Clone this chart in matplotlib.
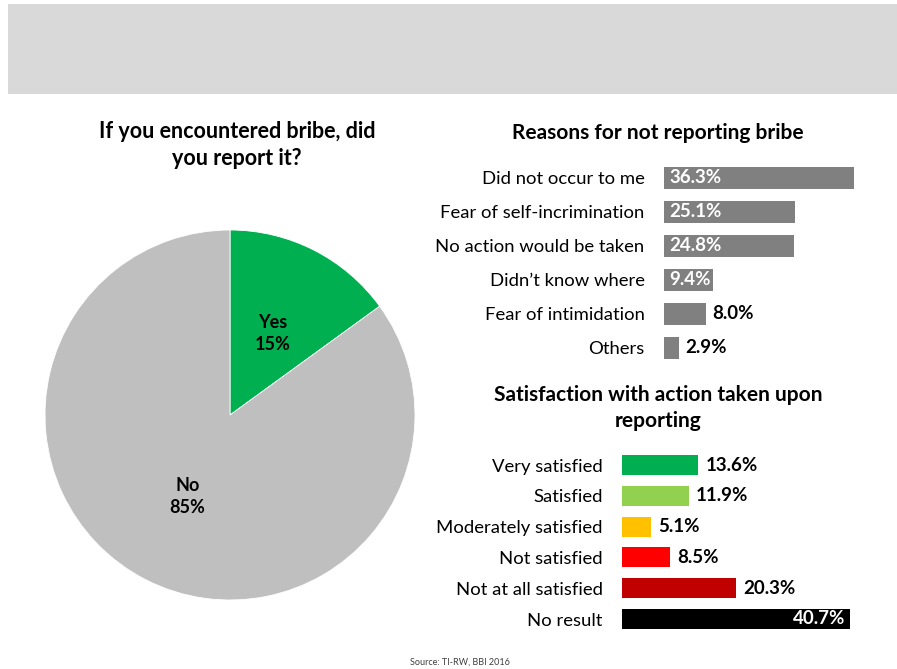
import matplotlib.pyplot as plt
from matplotlib.patches import Rectangle

plt.rcParams['font.family'] = ['Lato', 'DejaVu Sans']

# Reported bribe or not
pie_labels = ['Yes', 'No']
pie_values = [15, 85]
pie_colors = ['#00B050', '#BFBFBF']

# Reasons for not reporting
reason_labels = ['Did not occur to me', 'Fear of self-incrimination', 'No action would be taken',
                 'Didn\u2019t know where', 'Fear of intimidation', 'Others']
reason_values = [36.3, 25.1, 24.8, 9.4, 8.0, 2.9]
reason_inside = [True, True, True, True, False, False]

# Satisfaction with action taken
sat_labels = ['Very satisfied', 'Satisfied', 'Moderately satisfied', 'Not satisfied',
              'Not at all satisfied', 'No result']
sat_values = [13.6, 11.9, 5.1, 8.5, 20.3, 40.7]
sat_colors = ['#00B050', '#92D050', '#FFC000', '#FF0000', '#C00000', '#000000']

W, H = 897, 669
fig = plt.figure(figsize=(W / 100, H / 100), dpi=100)
fig.patch.set_facecolor('white')


def px_axes(x0, y0, x1, y1):
    # axes from pixel box (top-left origin)
    return fig.add_axes([x0 / W, 1 - y1 / H, (x1 - x0) / W, (y1 - y0) / H])


# grey header band
fig.patches.append(Rectangle((8 / W, 1 - 94 / H), 1, 90 / H, transform=fig.transFigure,
                             facecolor='#D9D9D9', edgecolor='none'))

# pie
ax_pie = px_axes(45, 230, 415, 600)
ax_pie.pie(pie_values, colors=pie_colors, startangle=90, counterclock=False,
           wedgeprops=dict(edgecolor='white', linewidth=0.6))
ax_pie.set_xlim(-1, 1)
ax_pie.set_ylim(-1, 1)
ax_pie.set_aspect('equal')
ax_pie.text(0.23, 0.44, f'{pie_labels[0]}\n{pie_values[0]}%', ha='center', va='center',
            fontsize=13, fontweight='bold', linespacing=1.4)
ax_pie.text(-0.23, -0.44, f'{pie_labels[1]}\n{pie_values[1]}%', ha='center', va='center',
            fontsize=13, fontweight='bold', linespacing=1.4)
fig.text(237 / W, 1 - 145 / H, 'If you encountered bribe, did\nyou report it?', ha='center',
         va='center', fontsize=15.5, fontweight='bold', linespacing=1.3)

# reasons bar chart
ax1 = px_axes(664, 161, 664 + 40 * 5.23, 365)
pos = range(len(reason_values))
ax1.barh(pos, reason_values, height=0.65, color='#808080')
ax1.set_xlim(0, 40)
ax1.set_ylim(len(reason_values) - 0.5, -0.5)
ax1.set_yticks(list(pos), reason_labels, fontsize=13.3)
ax1.tick_params(axis='y', length=0, pad=14)
ax1.set_xticks([])
for s in ax1.spines.values():
    s.set_visible(False)
for i, (v, inside) in enumerate(zip(reason_values, reason_inside)):
    if inside:
        ax1.text(1.0, i, f'{v:.1f}%', ha='left', va='center', color='white',
                 fontsize=13.5, fontweight='bold')
    else:
        ax1.text(v + 1.2, i, f'{v:.1f}%', ha='left', va='center', color='black',
                 fontsize=13.5, fontweight='bold')
fig.text(658 / W, 1 - 133 / H, 'Reasons for not reporting bribe', ha='center', va='center',
         fontsize=15, fontweight='bold')

# satisfaction bar chart
ax2 = px_axes(622, 449.6, 622 + 42 * 5.6, 634.4)
pos = range(len(sat_values))
ax2.barh(pos, sat_values, height=0.65, color=sat_colors)
ax2.set_xlim(0, 42)
ax2.set_ylim(len(sat_values) - 0.5, -0.5)
ax2.set_yticks(list(pos), sat_labels, fontsize=13.3)
ax2.tick_params(axis='y', length=0, pad=14)
ax2.set_xticks([])
for s in ax2.spines.values():
    s.set_visible(False)
for i, v in enumerate(sat_values):
    if i == len(sat_values) - 1:
        ax2.text(v - 0.8, i, f'{v:.1f}%', ha='right', va='center', color='white',
                 fontsize=13.5, fontweight='bold')
    else:
        ax2.text(v + 1.3, i, f'{v:.1f}%', ha='left', va='center', color='black',
                 fontsize=13.5, fontweight='bold')
fig.text(658 / W, 1 - 408 / H, 'Satisfaction with action taken upon\nreporting', ha='center',
         va='center', fontsize=15, fontweight='bold', linespacing=1.35)

fig.text(460 / W, 1 - 662 / H, 'Source: TI-RW, BBI 2016', ha='center', va='center',
         fontsize=6.5, color='#404040')

fig.savefig('out.png', dpi=100)
